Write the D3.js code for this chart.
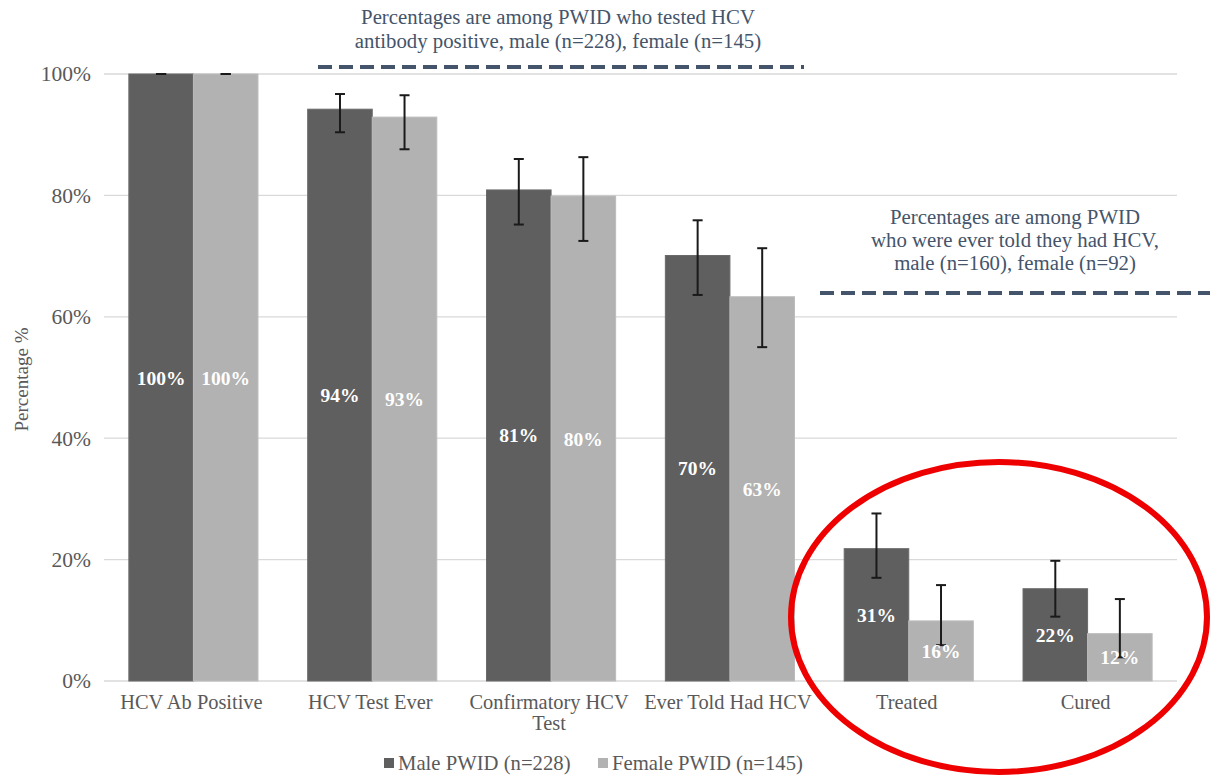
<!DOCTYPE html>
<html>
<head>
<meta charset="utf-8">
<script src="https://cdn.jsdelivr.net/npm/d3@7"></script>
<style>
  html, body { margin: 0; padding: 0; background: #ffffff; }
  svg { display: block; }
  svg text { font-family: "Liberation Serif", "DejaVu Serif", "Times New Roman", Times, serif; }
</style>
</head>
<body>
<svg id="chart" width="1214" height="775"></svg>
<script>
// HCV care cascade among people who inject drugs, by sex
const categories = ["HCV Ab Positive", "HCV Test Ever", "Confirmatory HCV Test", "Ever Told Had HCV", "Treated", "Cured"];
const categoryLines = [["HCV Ab Positive"], ["HCV Test Ever"], ["Confirmatory HCV", "Test"], ["Ever Told Had HCV"], ["Treated"], ["Cured"]];

const seriesNames = ["Male PWID (n=228)", "Female PWID (n=145)"];
const maleValues   = [100, 94.2, 80.9, 70.1, 21.8, 15.2];
const femaleValues = [100, 92.9, 79.9, 63.3, 9.9, 7.8];
const maleLow    = [100, 90.4, 75.2, 63.6, 17.0, 10.6];
const maleHigh   = [100, 96.7, 86.0, 75.9, 27.6, 19.8];
const femaleLow  = [100, 87.6, 72.5, 55.0, 5.9, 3.9];
const femaleHigh = [100, 96.5, 86.3, 71.3, 15.8, 13.5];

// Treated / Cured labels are expressed among those ever told they had HCV
const rebasedCategories = ["Treated", "Cured"];
const rebaseCategory = "Ever Told Had HCV";

const yTicks = [0, 20, 40, 60, 80, 100];
const noteAntibody = ["Percentages are among PWID  who tested HCV", "antibody positive, male (n=228), female (n=145)"];
const noteTold = ["Percentages are among PWID", "who were ever told they had HCV,", "male (n=160), female (n=92)"];

const colors = ["#5f5f5f", "#b2b2b2"];
const textGrey = "#595959";
const noteColor = "#44546a";
const serifFont = "'Liberation Serif', 'DejaVu Serif', 'Times New Roman', Times, serif";

const svg = d3.select("#chart");
const plot = { left: 104, right: 1177, top: 74, bottom: 681 };

const x = d3.scaleBand().domain(categories).range([plot.left, plot.right]).padding(0);
const groupWidth = x.bandwidth() * 0.722;
const xs = d3.scaleBand().domain([0, 1]).range([0, groupWidth]).padding(0);
const y = d3.scaleLinear().domain([0, 100]).range([plot.bottom, plot.top]);

const series = [
  { values: maleValues, low: maleLow, high: maleHigh },
  { values: femaleValues, low: femaleLow, high: femaleHigh }
];

// gridlines
svg.append("g")
  .selectAll("line")
  .data(yTicks)
  .join("line")
  .attr("x1", plot.left).attr("x2", plot.right)
  .attr("y1", d => y(d)).attr("y2", d => y(d))
  .attr("stroke", "#d9d9d9").attr("stroke-width", 1.3);

// y axis tick labels
const yAxis = d3.axisLeft(y).tickValues(yTicks).tickFormat(d => d + "%").tickSize(0).tickPadding(13);
const yg = svg.append("g").attr("transform", `translate(${plot.left},0)`).call(yAxis);
yg.select(".domain").remove();
yg.attr("font-family", null).attr("font-size", null);
yg.selectAll("text")
  .attr("fill", textGrey)
  .style("font-size", "21.5px")
  .style("font-family", serifFont);

// y axis title
svg.append("text")
  .attr("transform", `translate(28,${(plot.top + plot.bottom) / 2 + 2}) rotate(-90)`)
  .attr("text-anchor", "middle")
  .attr("fill", textGrey)
  .style("font-family", serifFont)
  .style("font-size", "19px")
  .text("Percentage %");

// bars
const groups = svg.append("g")
  .selectAll("g")
  .data(categories)
  .join("g")
  .attr("transform", c => `translate(${x(c) + (x.bandwidth() - groupWidth) / 2},0)`);

series.forEach((s, si) => {
  groups.append("rect")
    .attr("x", xs(si))
    .attr("width", xs.bandwidth())
    .attr("y", (c, i) => y(s.values[i]))
    .attr("height", (c, i) => y(0) - y(s.values[i]))
    .attr("fill", colors[si])
    .attr("stroke", si === 0 ? "#6a6a6a" : "#bcbcbc")
    .attr("stroke-width", 1);
});

// error bars
series.forEach((s, si) => {
  const cx = xs(si) + xs.bandwidth() / 2;
  const eb = groups.append("g").attr("stroke", "#1a1a1a").attr("stroke-width", 2);
  eb.append("line")
    .attr("x1", cx).attr("x2", cx)
    .attr("y1", (c, i) => y(s.low[i])).attr("y2", (c, i) => y(s.high[i]));
  eb.append("line")
    .attr("x1", cx - 5).attr("x2", cx + 5)
    .attr("y1", (c, i) => y(s.high[i])).attr("y2", (c, i) => y(s.high[i]));
  eb.append("line")
    .attr("x1", cx - 5).attr("x2", cx + 5)
    .attr("y1", (c, i) => y(s.low[i])).attr("y2", (c, i) => y(s.low[i]));
});

// value labels in the middle of each bar
const rebaseIndex = categories.indexOf(rebaseCategory);
series.forEach((s, si) => {
  groups.append("text")
    .attr("x", xs(si) + xs.bandwidth() / 2)
    .attr("y", (c, i) => y(s.values[i] / 2) + 7)
    .attr("text-anchor", "middle")
    .attr("fill", "#ffffff")
    .style("font-family", serifFont)
    .style("font-size", "19.5px")
    .style("font-weight", "bold")
    .text((c, i) => {
      const v = rebasedCategories.includes(c) ? s.values[i] / s.values[rebaseIndex] * 100 : s.values[i];
      return Math.round(v) + "%";
    });
});

// category labels
const xl = svg.append("g")
  .selectAll("text")
  .data(categories)
  .join("text")
  .attr("x", c => x(c) + x.bandwidth() / 2 - 2)
  .attr("y", 709)
  .attr("text-anchor", "middle")
  .attr("fill", textGrey)
  .style("font-family", serifFont)
  .style("font-size", "20.4px");
xl.selectAll("tspan")
  .data((c, i) => categoryLines[i])
  .join("tspan")
  .attr("x", function () { return d3.select(this.parentNode).attr("x"); })
  .attr("dy", (d, j) => j === 0 ? 0 : 21)
  .text(d => d);

// legend
const legend = svg.append("g").attr("transform", "translate(384,770)");
const legendOffsets = [0, 214];
seriesNames.forEach((name, si) => {
  const lg = legend.append("g").attr("transform", `translate(${legendOffsets[si]},0)`);
  lg.append("rect").attr("x", 0).attr("y", -12).attr("width", 10).attr("height", 10).attr("fill", colors[si]);
  lg.append("text").attr("x", 14).attr("y", 0).attr("fill", textGrey)
    .style("font-family", serifFont).style("font-size", "20.7px").text(name);
});

// annotation notes with dashed rules
function note(lines, cx, firstBaseline, lineGap, x1, x2, ruleY) {
  const t = svg.append("text")
    .attr("text-anchor", "middle")
    .attr("fill", noteColor)
    .style("font-family", serifFont)
    .style("font-size", "20.8px");
  t.selectAll("tspan").data(lines).join("tspan")
    .attr("x", cx)
    .attr("y", (d, i) => firstBaseline + i * lineGap)
    .text(d => d);
  svg.append("line")
    .attr("x1", x1).attr("x2", x2)
    .attr("y1", ruleY).attr("y2", ruleY)
    .attr("stroke", noteColor)
    .attr("stroke-width", 4)
    .attr("stroke-dasharray", "14,7");
}
note(noteAntibody, 558, 24, 24, 318, 804, 67);
note(noteTold, 1015, 224, 23, 820, 1210, 293);

// highlight ring around the treatment outcomes
svg.append("ellipse")
  .attr("cx", 999).attr("cy", 617)
  .attr("rx", 208).attr("ry", 155)
  .attr("fill", "none")
  .attr("stroke", "#ee0000")
  .attr("stroke-width", 6);
</script>
</body>
</html>
